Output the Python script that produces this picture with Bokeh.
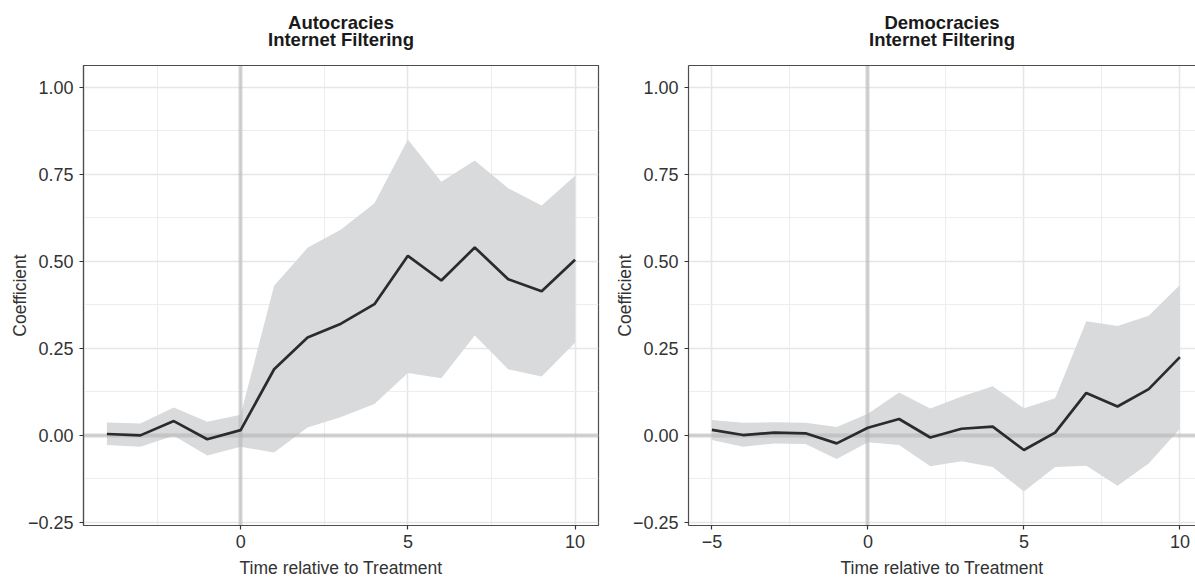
from bokeh.plotting import figure
from bokeh.layouts import row
from bokeh.models import (FixedTicker, LinearAxis, Range1d,
                          CustomJSTickFormatter)
from bokeh.embed import file_html
from bokeh.resources import INLINE

# ---------------- data ----------------
auto_time = [-4, -3, -2, -1, 0, 1, 2, 3, 4, 5, 6, 7, 8, 9, 10]
auto_coef = [0.003, -0.001, 0.040, -0.012, 0.014, 0.189, 0.280, 0.320, 0.376,
             0.515, 0.444, 0.539, 0.448, 0.413, 0.504]
auto_upper = [0.036, 0.033, 0.079, 0.038, 0.058, 0.429, 0.538, 0.591, 0.666,
              0.849, 0.728, 0.789, 0.709, 0.660, 0.745]
auto_lower = [-0.029, -0.034, -0.002, -0.059, -0.034, -0.050, 0.022, 0.052,
              0.089, 0.178, 0.163, 0.286, 0.189, 0.168, 0.265]

demo_time = [-5, -4, -3, -2, -1, 0, 1, 2, 3, 4, 5, 6, 7, 8, 9, 10]
demo_coef = [0.015, 0.000, 0.007, 0.005, -0.024, 0.021, 0.046, -0.007, 0.018,
             0.024, -0.043, 0.007, 0.121, 0.082, 0.132, 0.224]
demo_upper = [0.043, 0.035, 0.037, 0.035, 0.023, 0.061, 0.122, 0.076, 0.111,
              0.140, 0.077, 0.106, 0.327, 0.313, 0.343, 0.431]
demo_lower = [-0.014, -0.034, -0.024, -0.026, -0.069, -0.021, -0.029, -0.090,
              -0.075, -0.092, -0.162, -0.092, -0.088, -0.146, -0.082, 0.018]

reference_y = [0.0]
reference_x = [0.0]

y_ticks = [-0.25, 0.0, 0.25, 0.5, 0.75, 1.0]
y_tick_labels = ["\u22120.25", "0.00", "0.25", "0.50", "0.75", "1.00"]
y_minor = [-0.125, 0.125, 0.375, 0.625, 0.875]

auto_x_ticks = [0, 5, 10]
auto_x_tick_labels = ["0", "5", "10"]
demo_x_ticks = [-5, 0, 5, 10]
demo_x_tick_labels = ["\u22125", "0", "5", "10"]
x_minor = [-7.5, -2.5, 2.5, 7.5]

auto_title = ["Autocracies", "Internet Filtering"]
demo_title = ["Democracies", "Internet Filtering"]
x_title = "Time relative to Treatment"
y_title = "Coefficient"

# ---------------- styling ----------------
FONT = "Liberation Sans"
TXT = "#333333"
BORDER = "#4D4D4D"
RIBBON = "#D9DADC"
REFLINE = "#AEAEAE"
LINE = "#2B2B2B"


def fmt(tick_values, tick_texts):
    return CustomJSTickFormatter(
        args=dict(tvals=tick_values, tlabels=tick_texts),
        code="const i = tvals.findIndex(t => Math.abs(t - tick) < 1e-9);"
             "return i >= 0 ? tlabels[i] : '';")


def title_axis(text, standoff, line_color):
    return LinearAxis(ticker=FixedTicker(ticks=[], minor_ticks=[]),
                      major_tick_out=0, major_tick_in=0,
                      minor_tick_out=0, minor_tick_in=0,
                      major_tick_line_color=None, minor_tick_line_color=None,
                      major_label_standoff=0,
                      axis_line_color=line_color, axis_line_width=1.2,
                      axis_label=text, axis_label_standoff=standoff,
                      axis_label_text_font=FONT,
                      axis_label_text_font_size="18.5px",
                      axis_label_text_font_style="bold",
                      axis_label_text_color="#1A1A1A")


def make_panel(title, t, coef, lo, hi, xr, xticks, xlabels, width,
               border_right, outline):
    p = figure(width=width, height=580, output_backend="svg",
               toolbar_location=None, x_range=Range1d(*xr),
               y_range=Range1d(-0.26, 1.062), title_location=None,
               min_border_left=83, min_border_right=border_right,
               min_border_top=65, min_border_bottom=52)
    p.background_fill_color = "white"
    p.border_fill_color = "white"
    if outline:
        p.outline_line_color = BORDER
        p.outline_line_width = 1.2
    else:
        p.outline_line_color = None

    xaxis = p.below[0]
    yaxis = p.left[0]
    xaxis.ticker = FixedTicker(ticks=xticks, minor_ticks=x_minor)
    xaxis.formatter = fmt(xticks, xlabels)
    yaxis.ticker = FixedTicker(ticks=y_ticks, minor_ticks=y_minor)
    yaxis.formatter = fmt(y_ticks, y_tick_labels)
    yaxis.axis_label = y_title
    xaxis.axis_label = x_title

    for ax in (xaxis, yaxis):
        ax.major_label_text_font = FONT
        ax.major_label_text_font_size = "18px"
        ax.major_label_text_color = TXT
        ax.major_tick_out = 4
        ax.major_tick_in = 0
        ax.major_tick_line_color = TXT
        ax.major_tick_line_width = 1.2
        ax.minor_tick_line_color = None
        ax.axis_line_color = BORDER
        ax.axis_line_width = 1.2
        ax.axis_label_text_font = FONT
        ax.axis_label_text_font_size = "17.5px"
        ax.axis_label_text_font_style = "normal"
        ax.axis_label_text_color = TXT
    yaxis.major_label_standoff = 6
    yaxis.axis_label_standoff = -5
    xaxis.major_label_standoff = 5
    xaxis.axis_label_standoff = 7

    for g in (p.xgrid[0], p.ygrid[0]):
        g.grid_line_color = "#E6E6E6"
        g.grid_line_width = 1.6
        g.minor_grid_line_color = "#EDEDED"
        g.minor_grid_line_width = 1.0

    # two-line panel title, second line closest to the frame
    p.add_layout(title_axis(title[1], 16, BORDER), "above")
    p.add_layout(title_axis(title[0], -7, None), "above")

    p.varea(x=t, y1=lo, y2=hi, fill_color=RIBBON, fill_alpha=1.0)
    p.hspan(y=reference_y, line_color=REFLINE, line_alpha=0.5, line_width=4)
    p.vspan(x=reference_x, line_color=REFLINE, line_alpha=0.5, line_width=4)
    p.line(x=t, y=coef, line_color=LINE, line_width=2.7)
    return p


p1 = make_panel(auto_title, auto_time, auto_coef, auto_lower, auto_upper,
                (-4.7, 10.7), auto_x_ticks, auto_x_tick_labels, 605, 7, True)
p2 = make_panel(demo_title, demo_time, demo_coef, demo_lower, demo_upper,
                (-5.75, 10.5), demo_x_ticks, demo_x_tick_labels, 590, 0, False)

layout = row(p1, p2)
open("out.html", "w").write(file_html(layout, INLINE))
